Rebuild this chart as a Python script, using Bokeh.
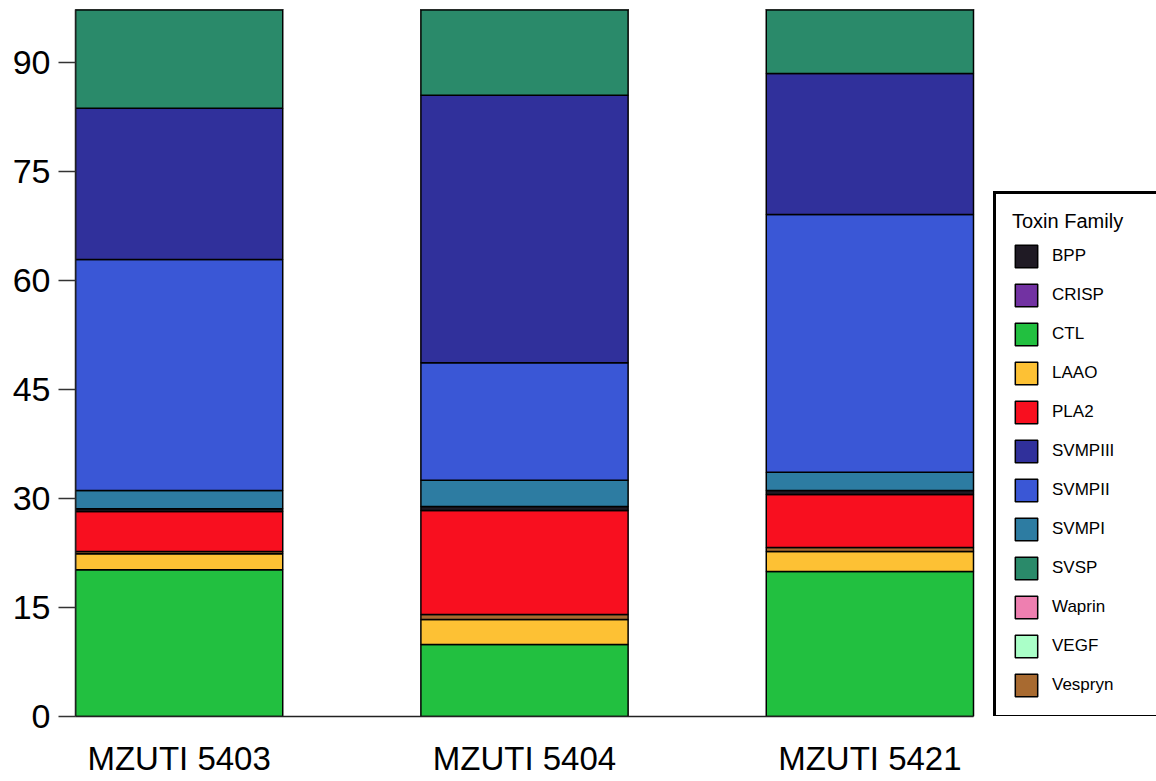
from bokeh.plotting import figure
from bokeh.models import ColumnDataSource, Range1d, FixedTicker, Legend, LegendItem
from bokeh.embed import file_html
from bokeh.resources import INLINE

# ---------------- data ----------------
samples = ["MZUTI 5403", "MZUTI 5404", "MZUTI 5421"]

CTL     = [20.2, 9.9, 19.95]
LAAO    = [2.2, 3.45, 2.75]
Vespryn = [0.3, 0.7, 0.55]
PLA2    = [5.5, 14.3, 7.3]
BPP     = [0.4, 0.55, 0.55]
SVMPI   = [2.5, 3.6, 2.5]
SVMPII  = [31.8, 16.2, 35.5]
SVMPIII = [20.8, 36.8, 19.4]
SVSP    = [16.3, 14.5, 11.5]
CRISP   = [0.0, 0.0, 0.0]
Waprin  = [0.0, 0.0, 0.0]
VEGF    = [0.0, 0.0, 0.0]

stack_order = ["CTL", "LAAO", "Vespryn", "PLA2", "BPP", "SVMPI", "SVMPII",
               "SVMPIII", "SVSP", "CRISP", "Waprin", "VEGF"]
legend_order = ["BPP", "CRISP", "CTL", "LAAO", "PLA2", "SVMPIII", "SVMPII",
                "SVMPI", "SVSP", "Waprin", "VEGF", "Vespryn"]

family_colors = {
    "BPP": "#1f1a24",
    "CRISP": "#7232a2",
    "CTL": "#22c040",
    "LAAO": "#fdc134",
    "PLA2": "#f80f1f",
    "SVMPIII": "#30309b",
    "SVMPII": "#3a57d6",
    "SVMPI": "#2d7ca2",
    "SVSP": "#2a8a6a",
    "Waprin": "#ee7fb0",
    "VEGF": "#aaffc8",
    "Vespryn": "#a86a30",
}

y_ticks = [0, 15, 30, 45, 60, 75, 90]

# ---------------- build ----------------
values = {
    "CTL": CTL, "LAAO": LAAO, "Vespryn": Vespryn, "PLA2": PLA2, "BPP": BPP,
    "SVMPI": SVMPI, "SVMPII": SVMPII, "SVMPIII": SVMPIII, "SVSP": SVSP,
    "CRISP": CRISP, "Waprin": Waprin, "VEGF": VEGF,
}
xpos = [i + 0.5 for i in range(len(samples))]
data = {"x": xpos}
data.update(values)
source = ColumnDataSource(data)

FONT = "Liberation Sans"

W, H = 1156, 781
LEFT, TOP, BOTTOM = 75, 9, 65
bars_px = 898                       # pixel span of the three bars
x_lo, x_hi = 0.2, len(samples) - 0.2
x_end = x_lo + (x_hi - x_lo) * (W - LEFT) / bars_px   # frame runs to page edge

p = figure(width=W, height=H,
           x_range=Range1d(x_lo, x_end),
           y_range=Range1d(0, 97.3),
           output_backend="svg", toolbar_location=None,
           min_border_left=LEFT, min_border_right=0,
           min_border_top=TOP, min_border_bottom=BOTTOM)
p.outline_line_color = None
p.grid.visible = False
p.background_fill_color = "white"

renderers = p.vbar_stack(stack_order, x="x", width=0.6, source=source,
                         fill_color=[family_colors[n] for n in stack_order],
                         line_color="black", line_width=1.5)
rmap = dict(zip(stack_order, renderers))

# axes
xa = p.xaxis[0]
xa.bounds = (x_lo, x_hi)
xa.ticker = FixedTicker(ticks=xpos)
xa.major_label_overrides = {x: s for x, s in zip(xpos, samples)}
xa.major_tick_out = 0
xa.major_tick_in = 0
xa.minor_tick_out = 0
xa.minor_tick_in = 0
xa.major_label_standoff = 23
xa.major_label_text_font = FONT
xa.major_label_text_font_size = "33px"
xa.major_label_text_color = "black"
xa.axis_line_color = "#222222"
xa.axis_line_width = 1.5

ya = p.yaxis[0]
ya.ticker = FixedTicker(ticks=y_ticks)
ya.major_tick_out = 17
ya.major_tick_in = 0
ya.minor_tick_out = 0
ya.minor_tick_in = 0
ya.major_tick_line_color = "#333333"
ya.major_tick_line_width = 1.5
ya.major_label_standoff = 8
ya.major_label_text_font = FONT
ya.major_label_text_font_size = "34px"
ya.major_label_text_color = "black"
ya.axis_line_color = "#222222"
ya.axis_line_width = 1.5

# legend (inside the frame, its right edge runs off the page)
legend = Legend(
    items=[LegendItem(label=n, renderers=[rmap[n]]) for n in legend_order],
    location=(918, -2),
    title="Toxin Family",
    title_text_font=FONT, title_text_font_size="20px",
    title_text_font_style="normal", title_text_color="black",
    title_standoff=9,
    label_text_font=FONT, label_text_font_size="17px", label_text_color="black",
    glyph_width=28, glyph_height=28, label_height=28,
    label_standoff=12, label_width=260,
    spacing=11, padding=16, margin=0,
    border_line_color="black", border_line_width=3, border_line_alpha=1,
    background_fill_color="white", background_fill_alpha=1,
)
p.add_layout(legend, "center")

open("out.html", "w").write(file_html(p, INLINE))
